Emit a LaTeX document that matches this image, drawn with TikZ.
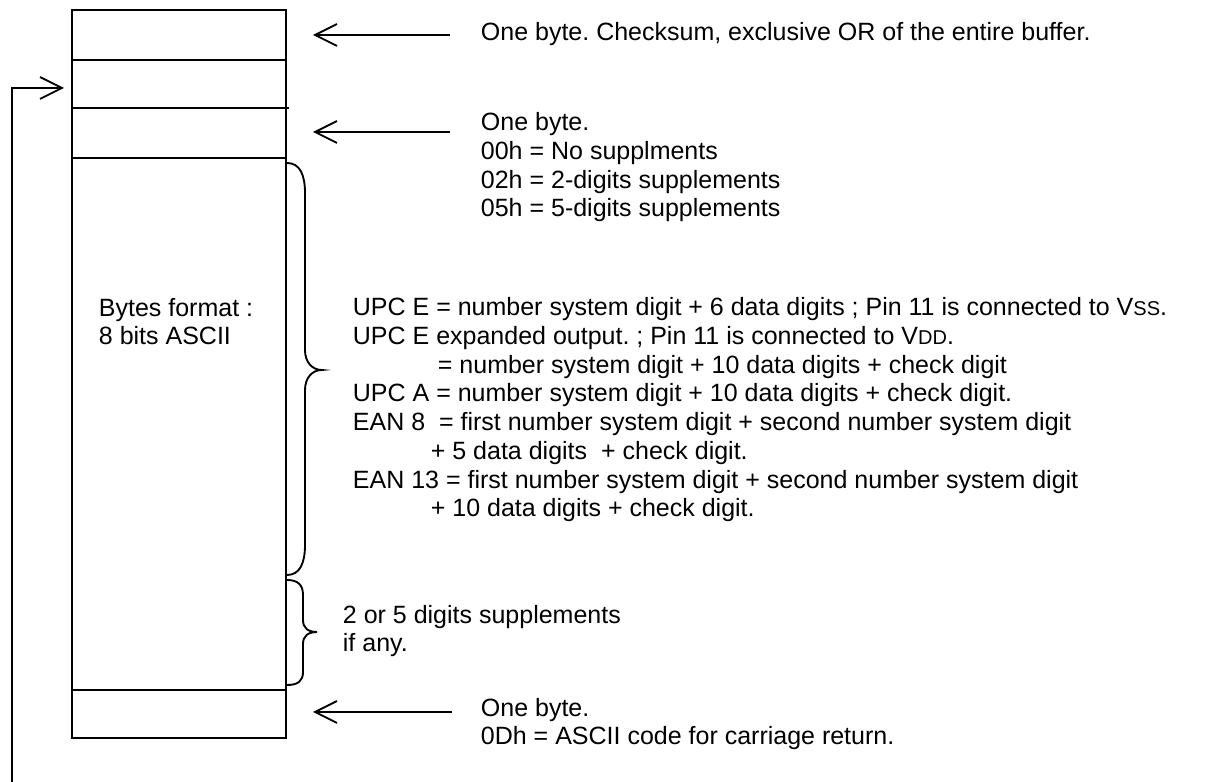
\documentclass[tikz,border=0pt]{standalone}
\usepackage{fontspec}
\setmainfont{Liberation Sans}
\usetikzlibrary{arrows.meta}
\frenchspacing
\begin{document}
\begin{tikzpicture}[x=0.48pt,y=-0.48pt,line width=0.9pt,
  sect/.style={draw, inner sep=0pt, outer sep=0pt, minimum width=102.72pt, anchor=north west},
  txt/.style={font=\fontsize{12}{13.8}\selectfont, align=left, inner sep=0pt, anchor=base west},
  barb/.style={-{Straight Barb[length=10.5pt,width=10.5pt]}},
  brace/.style={line width=0.9pt}]
\useasboundingbox (0,0) rectangle (1226,782);
% buffer sections
\node[sect, minimum height=24pt]    (s1) at (72,10)  {};
\node[sect, minimum height=23.04pt] (s2) at (72,60)  {};
\node[sect, minimum height=24pt]    (s3) at (72,108) {};
\node[sect, minimum height=255.36pt] (s4) at (72,158) {};
\node[sect, minimum height=23.04pt] (s5) at (72,690) {};
\draw (s3.north east) -- ++(3,0);
% texts (base anchor = baseline of the last line)
\node[txt] (t1) at (480,41) {One byte. Checksum, exclusive OR of the entire buffer.};
\node[txt] (t2) at (480,217) {One byte.\\00h = No supplments\\02h = 2-digits supplements\\05h = 5-digits supplements};
\node[txt] (t3) at (98,345) {Bytes format :\\8 bits ASCII};
\node[txt] (t4) at (352,517) {UPC E = number system digit + 6 data digits ; Pin 11 is connected to V{\fontsize{9.6}{13.8}\selectfont SS}.\\
UPC E expanded output. ; Pin 11 is connected to V{\fontsize{9.6}{13.8}\selectfont DD}.\\
\hspace*{40.8pt}= number system digit + 10 data digits + check digit\\
UPC A = number system digit + 10 data digits + check digit.\\
EAN 8\ \ = first number system digit + second number system digit\\
\hspace*{37.4pt}+ 5 data digits\ \ + check digit.\\
EAN 13 = first number system digit + second number system digit\\
\hspace*{37.4pt}+ 10 data digits + check digit.};
\node[txt] (t5) at (342,652) {2 or 5 digits supplements\\if any.};
\node[txt] (t6) at (480,745) {One byte.\\0Dh = ASCII code for carriage return.};
% arrows
\coordinate (a1s) at (450,35);  \coordinate (a1e) at (313,35);
\coordinate (a2s) at (450,132); \coordinate (a2e) at (313,132);
\coordinate (a3s) at (452,712); \coordinate (a3e) at (313,712);
\draw[barb] (a1s) -- (a1e);
\draw[barb] (a2s) -- (a2e);
\draw[barb] (a3s) -- (a3e);
\coordinate (fb0) at (12,782); \coordinate (fb1) at (64,88);
\draw[barb] (fb0) |- (fb1);
% braces
\draw[brace] (287,163) .. controls (300,163) and (305,175) .. (305,193) -- (305,350)
  .. controls (305,362) and (312,370) .. (322,370)
  .. controls (312,370) and (305,378) .. (305,390) -- (305,545)
  .. controls (305,563) and (300,575) .. (287,575);
\draw[brace] (287,580) .. controls (298,580) and (303,585) .. (303,595) -- (303,620)
  .. controls (303,628) and (308,632) .. (317,632)
  .. controls (308,632) and (303,636) .. (303,644) -- (303,672)
  .. controls (303,681) and (298,685) .. (287,685);
\end{tikzpicture}
\end{document}
